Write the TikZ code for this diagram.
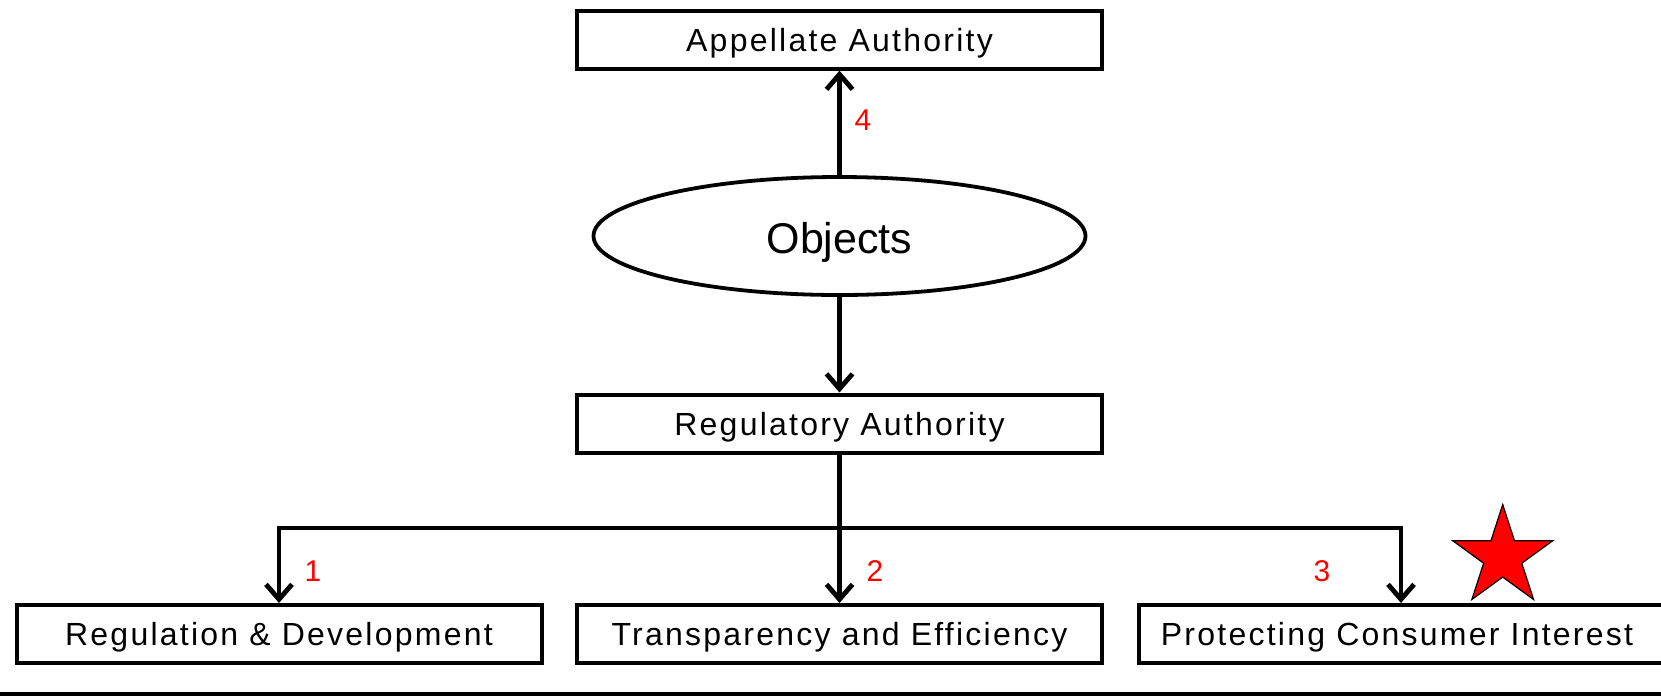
\documentclass[tikz,border=0pt]{standalone}
\usepackage{fontspec}
\setmainfont{Liberation Sans}
\newfontfamily\labfont{Liberation Sans}[LetterSpace=7]
\usetikzlibrary{arrows.meta,shapes.geometric}
\begin{document}
\begin{tikzpicture}[x=1pt,y=-1pt,
  box/.style={draw, line width=4pt, minimum width=525pt, minimum height=58pt, inner sep=0pt, text depth=0pt, font=\labfont\fontsize{32}{38}\selectfont},
  conn/.style={line width=4.8pt},
  arr/.style={conn, -{Straight Barb[length=15pt,width=26pt]}},
  num/.style={text=red, font=\fontsize{30}{36}\selectfont, inner sep=0pt}
]
\useasboundingbox (0,0) rectangle (1661,697);
\node[box] (app) at (839.5,39.7) {Appellate Authority};
\node[ellipse, draw, line width=3.8pt, minimum width=492pt, minimum height=118pt, inner sep=0pt, text depth=0pt, font=\fontsize{43}{50}\selectfont] (obj) at (839.5,236) {\raisebox{-3pt}{Objects}};
\node[box] (reg) at (839.5,423.5) {Regulatory Authority};
\node[box] (rd) at (279,634) {Regulation \& Development};
\node[box] (te) at (839.5,634) {Transparency and Efficiency};
\node[box] (pc) at (1401,634) {\hspace*{-8pt}Protecting Consumer Interest};
\coordinate (j) at (839.5,528);
\draw[arr] (obj.north) -- (app.south);
\draw[arr] (obj.south) -- (reg.north);
\draw[conn] (reg.south) -- (j);
\draw[arr] (j) -| (rd.north);
\draw[arr] (j) -| (pc.north);
\draw[arr] (j) -- (te.north);
\node[num] (n4) at (863,120) {4};
\node[num] (n1) at (313,571) {1};
\node[num] (n2) at (875,571) {2};
\node[num] (n3) at (1322,571) {3};
\node[star, star points=5, star point ratio=2.618, minimum size=105pt, inner sep=0pt, fill=red, draw=black, line width=1.2pt] (st) at (1502.7,557) {};
\coordinate (bl) at (0,694);
\coordinate (br) at (1661,694);
\draw[line width=4pt] (bl) -- (br);
\end{tikzpicture}
\end{document}
